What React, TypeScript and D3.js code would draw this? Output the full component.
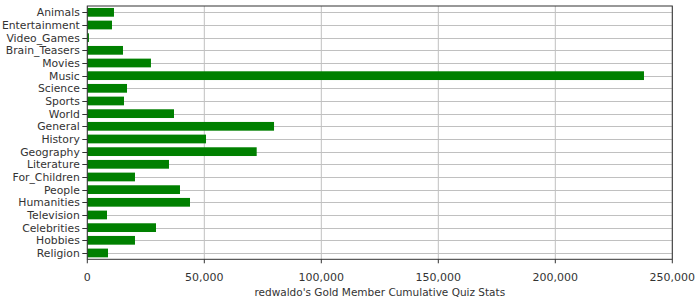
import React from "react";
import * as d3 from "d3";

const categories = [
  "Animals", "Entertainment", "Video_Games", "Brain_Teasers", "Movies", "Music",
  "Science", "Sports", "World", "General", "History", "Geography", "Literature",
  "For_Children", "People", "Humanities", "Television", "Celebrities", "Hobbies", "Religion",
];
const values = [
  11400, 10550, 700, 15250, 27200, 237900,
  16970, 15680, 37050, 79800, 50730, 72390, 34910,
  20380, 39610, 43890, 8420, 29360, 20380, 8850,
];
const xTicks = [0, 50000, 100000, 150000, 200000, 250000];
const axisTitle = "redwaldo's Gold Member Cumulative Quiz Stats";

const W = 700, H = 300;
const left = 87.3, right = 672.3, top = 6, bottom = 259.3;
const font = "'DejaVu Sans', sans-serif";

export default function App() {
  const x = d3.scaleLinear().domain([0, 250000]).range([left, right]);
  const y = d3.scaleBand<string>().domain(categories).range([top, bottom]).paddingInner(0.31).paddingOuter(0.155);
  const fmt = d3.format(",");
  const axisColor = "#333";
  return (
    <svg width={W} height={H} style={{ position: "absolute", left: 0, top: 0, background: "#fff" }}>
      <rect x={0} y={0} width={W} height={H} fill="#fff" />
      {/* grid */}
      {xTicks.map((t) => (
        <line key={"gx" + t} x1={x(t)} x2={x(t)} y1={top} y2={bottom} stroke="#c0c0c0" strokeWidth={1} />
      ))}
      {categories.map((c) => {
        const cy = Math.round(y(c)! + y.bandwidth() / 2) + 0.5;
        return <line key={"gy" + c} x1={left} x2={right} y1={cy} y2={cy} stroke="#c0c0c0" strokeWidth={1} />;
      })}
      {/* bars */}
      {categories.map((c, i) => (
        <rect key={"b" + c} x={x(0)} y={y(c)} width={x(values[i]) - x(0)} height={y.bandwidth()} fill="#008000" />
      ))}
      {/* plot outline */}
      <rect x={left} y={top} width={right - left} height={bottom - top} fill="none" stroke={axisColor} strokeWidth={1} />
      {/* y axis ticks & labels */}
      {categories.map((c) => {
        const cy = Math.round(y(c)! + y.bandwidth() / 2) + 0.5;
        return (
          <g key={"yl" + c}>
            <line x1={left - 5} x2={left} y1={cy} y2={cy} stroke={axisColor} />
            <text x={left - 7.5} y={cy} dy="0.35em" textAnchor="end" fontFamily={font} fontSize={10.8} fill="#333">
              {c}
            </text>
          </g>
        );
      })}
      {/* x axis ticks & labels */}
      {xTicks.map((t) => (
        <g key={"xl" + t}>
          <line x1={x(t)} x2={x(t)} y1={bottom} y2={bottom + 4} stroke={axisColor} />
          <text x={x(t)} y={bottom + 22} textAnchor="middle" fontFamily={font} fontSize={11} fill="#333">
            {fmt(t)}
          </text>
        </g>
      ))}
      <text x={(left + right) / 2} y={H - 4} textAnchor="middle" fontFamily={font} fontSize={10.5} fill="#333">
        {axisTitle}
      </text>
    </svg>
  );
}
